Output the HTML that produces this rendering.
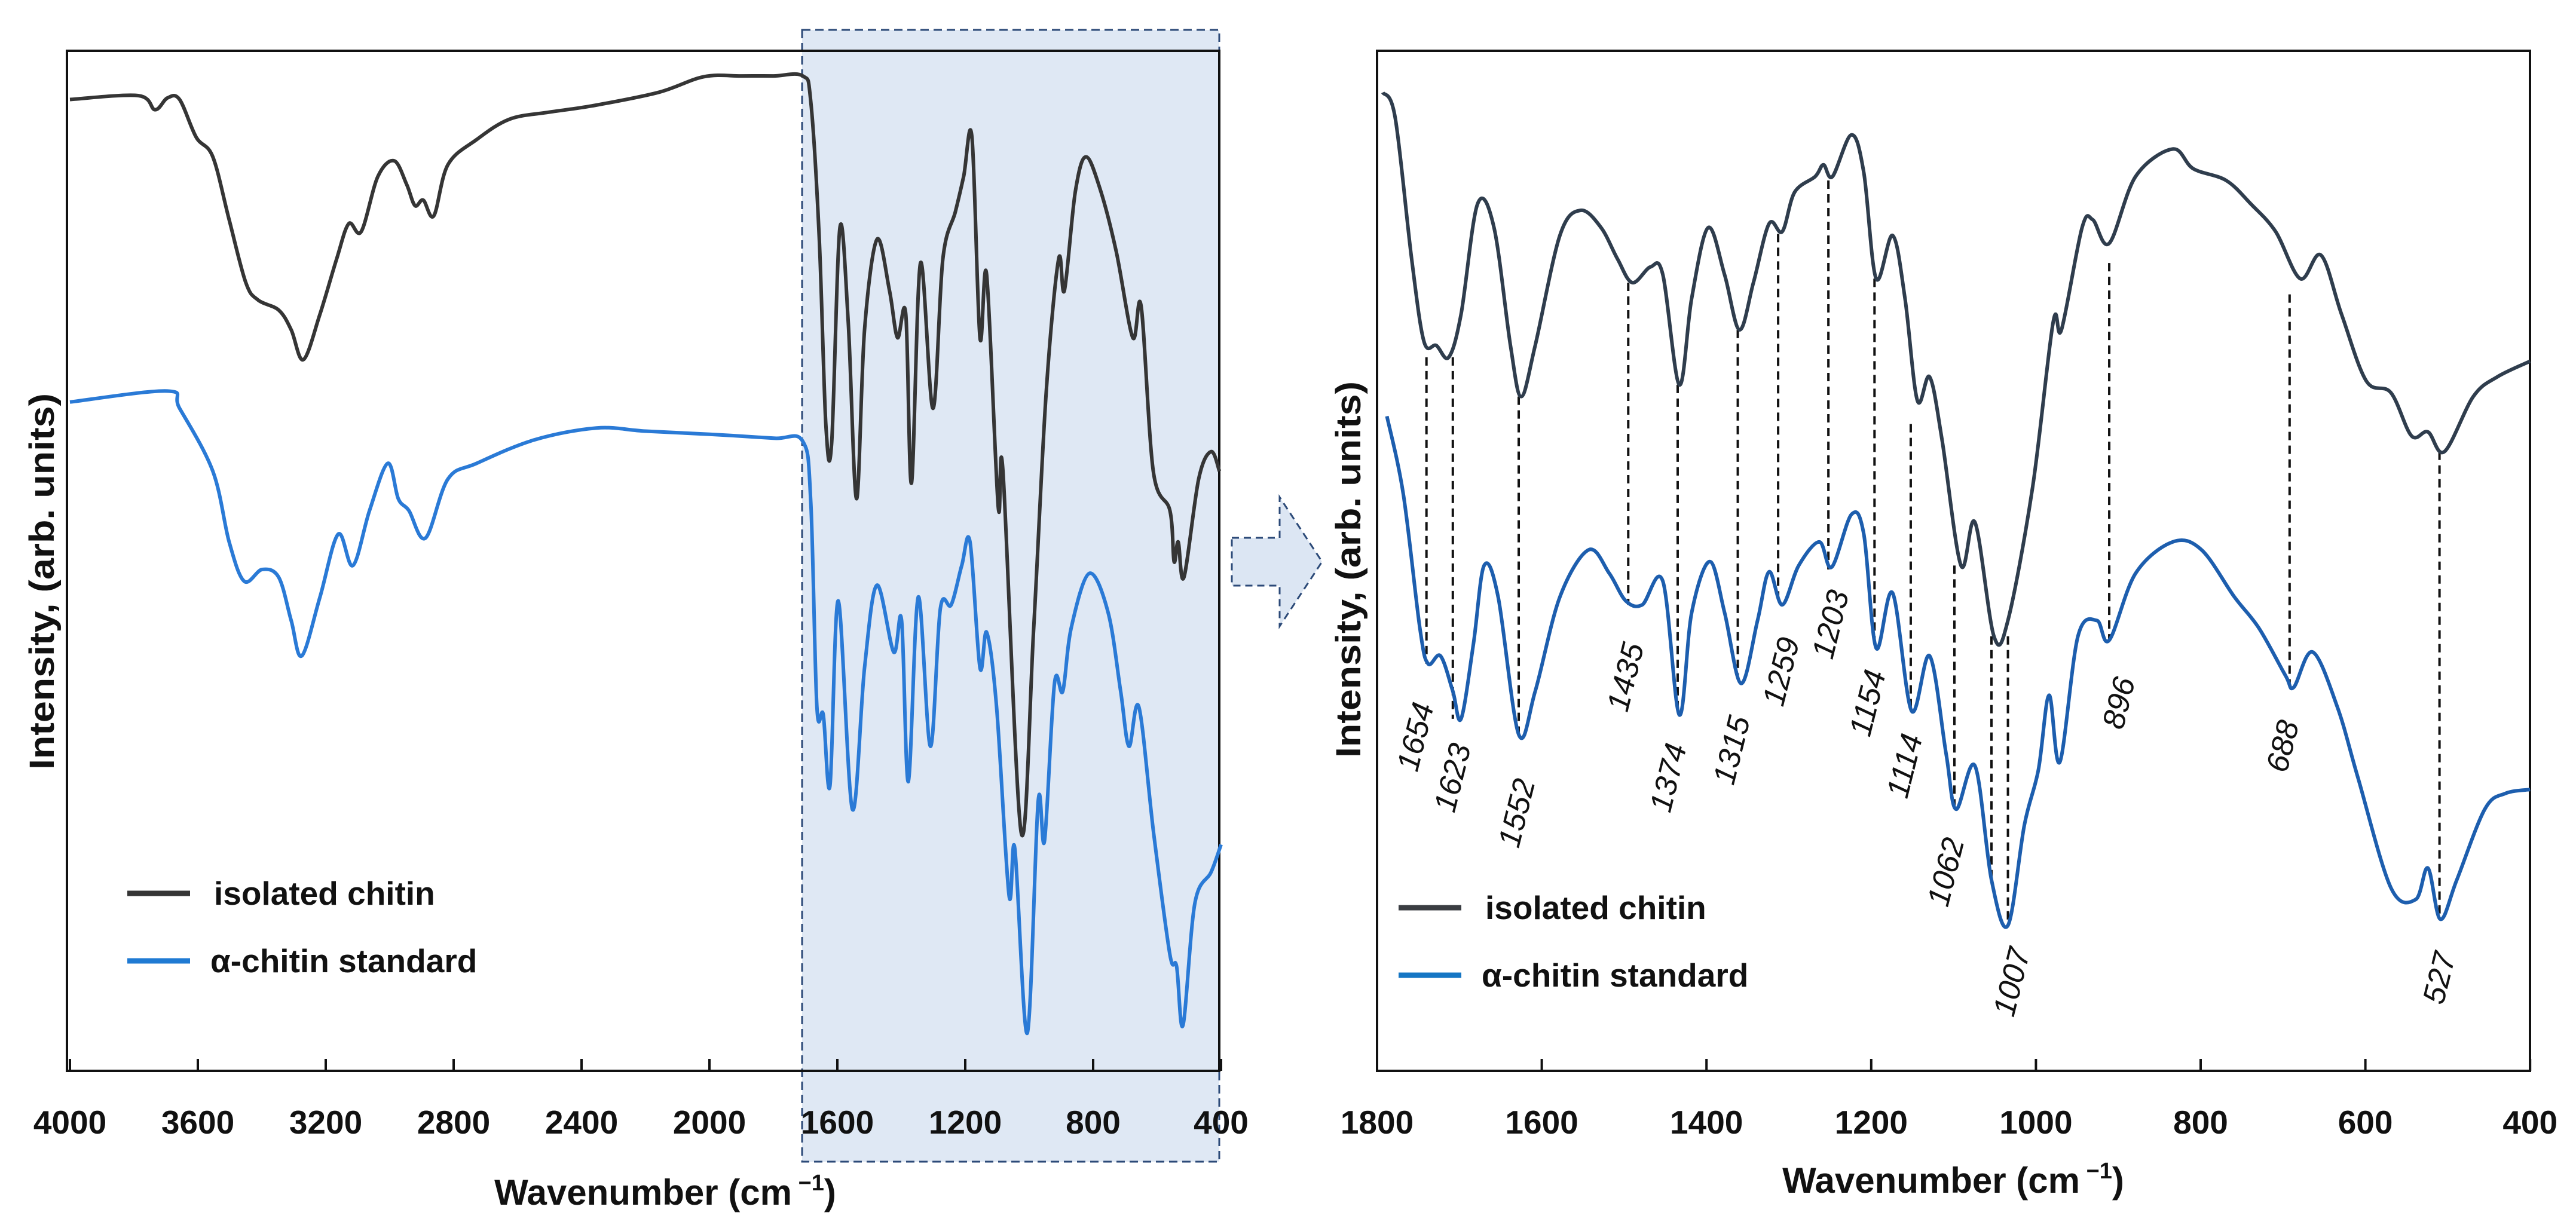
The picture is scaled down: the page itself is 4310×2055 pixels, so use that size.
<!DOCTYPE html>
<html><head><meta charset="utf-8"><title>FTIR chitin spectra</title>
<style>
html,body{margin:0;padding:0;background:#fff;}
svg{display:block;font-family:"Liberation Sans",Arial,sans-serif;}
</style></head>
<body>
<svg id="fig" width="4310" height="2055" viewBox="0 0 4310 2055" xmlns="http://www.w3.org/2000/svg">
  <rect x="0" y="0" width="4310" height="2055" fill="#fff"/>
  <rect x="1342" y="50" width="698" height="1894" fill="#dfe8f4" stroke="#2c4a78" stroke-width="3" stroke-dasharray="14,8"/>
  <g id="left"></g>
  <g id="right"></g>
  <path d="M2061,900 L2141,900 L2141,832 L2212,940 L2141,1048 L2141,980 L2061,980 Z" fill="#dce6f3" stroke="#2c4a78" stroke-width="3" stroke-dasharray="12,8"/>
</svg>
<script>
// ---------- DATA ----------
const leftBlackWn = [4000,3786,3734,3695,3657,3605,3553,3502,3450,3412,3347,3308,3270,3218,3166,3128,3089,3037,2986,2947,2921,2895,2862,2818,2728,2625,2500,2366,2160,2018,1900,1800,1708,1683,1657,1636,1618,1592,1566,1540,1515,1476,1437,1412,1386,1368,1340,1301,1270,1231,1205,1179,1154,1133,1097,1082,1025,986,947,908,890,856,823,779,728,676,650,612,560,547,534,516,470,431,405];
const leftBlackI = [1236,1241,1223,1238,1236,1188,1163,1083,1003,981,968,943,905,963,1033,1078,1068,1138,1158,1128,1101,1108,1088,1153,1185,1211,1220,1228,1245,1265,1266,1266,1266,1233,1063,823,798,1073,953,728,943,1058,993,933,963,748,1028,843,1033,1093,1138,1188,933,1013,718,763,303,563,863,1033,993,1118,1163,1123,1043,933,973,763,713,648,673,628,753,788,763];
const leftBlueWn = [4000,3695,3657,3553,3502,3455,3399,3347,3308,3275,3218,3161,3115,3063,3006,2973,2940,2888,2818,2728,2547,2353,2200,2000,1800,1708,1683,1664,1644,1623,1597,1553,1515,1476,1424,1399,1378,1347,1309,1278,1244,1211,1185,1154,1133,1102,1063,1045,1006,972,952,921,895,869,812,753,714,688,657,611,560,539,519,482,431,400];
const leftBlueI = [851,865,843,763,673,623,638,628,573,528,603,683,643,713,773,728,713,678,753,773,803,818,814,810,805,801,723,463,453,363,598,333,513,618,533,573,368,603,413,588,593,643,673,513,558,463,223,283,48,343,293,493,483,563,633,583,483,413,463,303,148,133,58,213,253,288];
const leftTicks = [4000,3600,3200,2800,2400,2000,1600,1200,800,400];

const rightBlackWn = [1793,1778,1758,1743,1728,1713,1698,1678,1658,1638,1625,1608,1578,1553,1528,1508,1490,1468,1453,1433,1418,1398,1378,1360,1343,1324,1308,1293,1268,1258,1247,1224,1209,1194,1174,1159,1144,1129,1114,1091,1074,1051,1034,1004,979,969,944,931,911,879,834,809,769,739,709,679,654,629,599,569,544,524,504,469,440,400];
const rightBlackI = [1245,1213,1033,928,923,908,963,1103,1073,923,858,923,1063,1095,1073,1033,1003,1023,1013,873,983,1073,1013,943,1003,1078,1068,1118,1138,1153,1138,1191,1143,1008,1063,983,853,883,803,643,698,553,573,743,953,943,1073,1083,1053,1138,1173,1148,1133,1103,1068,1008,1038,963,878,863,808,813,788,858,883,903];
const rightBlueWn = [1788,1768,1748,1738,1723,1708,1698,1683,1670,1653,1628,1608,1578,1543,1518,1498,1478,1453,1433,1418,1396,1378,1358,1338,1324,1308,1288,1263,1248,1224,1209,1194,1174,1151,1129,1109,1097,1074,1054,1034,1014,997,984,971,949,926,911,879,834,799,759,729,697,687,664,634,609,569,539,524,509,489,455,430,400];
const rightBlueI = [833,733,563,518,528,483,448,543,643,603,428,483,603,663,633,598,593,623,453,583,648,583,493,573,635,593,643,673,641,708,683,538,608,458,528,403,333,388,243,185,313,383,478,393,553,573,548,633,673,663,603,563,503,488,533,463,373,233,218,258,193,243,333,353,358];
const rightTicks = [1800,1600,1400,1200,1000,800,600,400];

const peakLabels = ["1654","1623","1552","1435","1374","1315","1259","1203","1154","1114","1062","1007","896","688","527"];
const peakLineWn = [1740,1708,1628,1495,1435,1362,1313,1252,1196,1152,1099,1054,911,692,510];
const peakLineTop = [908,908,858,1003,873,943,1065,1133,1008,823,643,553,1028,988,788];
const peakLineBottom = [518,448,423,593,458,498,598,638,538,458,333,243,548,488,198];
const peakLabelWn = [1753,1708,1630,1498,1446,1369,1309,1249,1204,1159,1109,1029,899,700,510];
const peakLabelI = [425,373,328,501,373,408,508,568,468,388,253,113,468,413,118];
const extraLineWn = [1034];
const extraLineTop = [553];
const extraLineBottom = [185];

// ---------- AXES ----------
const NS = "http://www.w3.org/2000/svg";
const yBottom = 1792, yTop = 85;
function yScale(I){ return yBottom - I*(yBottom - yTop)/1298; }
function xLeft(wn){ return 117 + (4000 - wn)/400*214; }
function xRight(wn){ return 2304 + (1800 - wn)/200*275.6; }

function mk(tag, parent){ const e = document.createElementNS(NS, tag); parent.appendChild(e); return e; }

function smoothPath(xs, ys){
  let d = "M" + xs[0].toFixed(1) + "," + ys[0].toFixed(1);
  for (let i = 0; i < xs.length - 1; i++){
    const x0 = xs[Math.max(i-1,0)], y0 = ys[Math.max(i-1,0)];
    const x1 = xs[i], y1 = ys[i], x2 = xs[i+1], y2 = ys[i+1];
    const x3 = xs[Math.min(i+2,xs.length-1)], y3 = ys[Math.min(i+2,ys.length-1)];
    const c1x = x1 + (x2-x0)/6, c1y = y1 + (y2-y0)/6;
    const c2x = x2 - (x3-x1)/6, c2y = y2 - (y3-y1)/6;
    d += " C" + c1x.toFixed(1)+","+c1y.toFixed(1)+" "+c2x.toFixed(1)+","+c2y.toFixed(1)+" "+x2.toFixed(1)+","+y2.toFixed(1);
  }
  return d;
}

function drawPanel(g, x0, x1, xs, ticks, series, legendX, legendY, titleX, titleY, ytitleX, ytitleY, prefix){
  const frame = mk("rect", g);
  
  
  frame.setAttribute("x", x0); frame.setAttribute("y", yTop);
  frame.setAttribute("width", x1 - x0); frame.setAttribute("height", yBottom - yTop);
  frame.setAttribute("fill", "none"); frame.setAttribute("stroke", "#111"); frame.setAttribute("stroke-width", "4");
  ticks.forEach(t => {
    const X = xs(t);
    const tk = mk("line", g);
    
    
    tk.setAttribute("x1", X); tk.setAttribute("x2", X);
    tk.setAttribute("y1", yBottom); tk.setAttribute("y2", yBottom - 20);
    tk.setAttribute("stroke", "#111"); tk.setAttribute("stroke-width", "4");
    const lb = mk("text", g);
    
    
    lb.setAttribute("x", X); lb.setAttribute("y", 1897);
    lb.setAttribute("text-anchor", "middle"); lb.setAttribute("font-size", "55");
    lb.setAttribute("font-weight", "bold"); lb.setAttribute("fill", "#111");
    lb.textContent = t;
  });
  series.forEach(s => {
    const p = mk("path", g);
    
    
    p.setAttribute("d", smoothPath(s.wn.map(xs), s.I.map(yScale)));
    p.setAttribute("fill", "none"); p.setAttribute("stroke", s.color);
    p.setAttribute("stroke-width", "6"); p.setAttribute("stroke-linejoin", "round");
  });
  series.forEach((s, i) => {
    const Y = legendY + i*113;
    const ln = mk("line", g);
    
    
    ln.setAttribute("x1", legendX); ln.setAttribute("x2", legendX + 105);
    ln.setAttribute("y1", Y); ln.setAttribute("y2", Y);
    ln.setAttribute("stroke", s.legendColor); ln.setAttribute("stroke-width", "9");
    const tx = mk("text", g);
    
    
    tx.setAttribute("x", legendX + 145 - i*6); tx.setAttribute("y", Y + 19);
    tx.setAttribute("font-size", "55"); tx.setAttribute("font-weight", "bold"); tx.setAttribute("fill", "#111");
    tx.textContent = s.label;
  });
  const xt = mk("text", g);
  
  
  xt.setAttribute("x", titleX); xt.setAttribute("y", titleY);
  xt.setAttribute("text-anchor", "middle"); xt.setAttribute("font-size", "60"); xt.setAttribute("font-weight", "bold");
  xt.setAttribute("fill", "#111");
  xt.innerHTML = 'Wavenumber (cm<tspan font-size="38" dy="-24"> \u22121</tspan><tspan dy="24">)</tspan>';
  const yt = mk("text", g);
  
  
  yt.setAttribute("transform", "translate(" + ytitleX + "," + ytitleY + ") rotate(-90)");
  yt.setAttribute("text-anchor", "middle"); yt.setAttribute("font-size", "58"); yt.setAttribute("font-weight", "bold");
  yt.setAttribute("fill", "#111"); yt.setAttribute("textLength", "630"); yt.setAttribute("lengthAdjust", "spacingAndGlyphs");
  yt.textContent = "Intensity, (arb. units)";
}

const left = document.getElementById("left");
drawPanel(left, 112, 2040, xLeft, leftTicks, [
  {name:'left-isolated-chitin-line', wn:leftBlackWn, I:leftBlackI, color:'#353535', legendColor:'#353535', label:'isolated chitin'},
  {name:'left-alpha-chitin-standard-line', wn:leftBlueWn, I:leftBlueI, color:'#2a7ad6', legendColor:'#1f7ad3', label:'\u03b1-chitin standard'}
], 213, 1495, 1113, 2016, 90, 973, 'left');

const right = document.getElementById("right");
const ann = mk("g", right);


peakLabels.forEach((lab, i) => {
  const X = xRight(peakLineWn[i]);
  const ln = mk("line", ann);
  
  
  ln.setAttribute("x1", X); ln.setAttribute("x2", X);
  ln.setAttribute("y1", yScale(peakLineTop[i])); ln.setAttribute("y2", yScale(peakLineBottom[i]));
  ln.setAttribute("stroke", "#111"); ln.setAttribute("stroke-width", "4"); ln.setAttribute("stroke-dasharray", "14,9");
  const tx = mk("text", ann);
  
  
  const LX = xRight(peakLabelWn[i]), LY = yScale(peakLabelI[i]);
  tx.setAttribute("transform", "translate(" + LX.toFixed(1) + "," + LY.toFixed(1) + ") rotate(-76)");
  tx.setAttribute("text-anchor", "middle"); tx.setAttribute("dominant-baseline", "central");
  tx.setAttribute("font-size", "52"); tx.setAttribute("font-style", "italic"); tx.setAttribute("fill", "#111");
  tx.textContent = lab;
});
extraLineWn.forEach((w, i) => {
  const X = xRight(w);
  const ln = mk("line", ann);
  
  
  ln.setAttribute("x1", X); ln.setAttribute("x2", X);
  ln.setAttribute("y1", yScale(extraLineTop[i])); ln.setAttribute("y2", yScale(extraLineBottom[i]));
  ln.setAttribute("stroke", "#111"); ln.setAttribute("stroke-width", "4"); ln.setAttribute("stroke-dasharray", "14,9");
});
drawPanel(right, 2304, 4233, xRight, rightTicks, [
  {name:'right-isolated-chitin-line', wn:rightBlackWn, I:rightBlackI, color:'#2f3d4d', legendColor:'#3a3d42', label:'isolated chitin'},
  {name:'right-alpha-chitin-standard-line', wn:rightBlueWn, I:rightBlueI, color:'#1d5eae', legendColor:'#1576c4', label:'\u03b1-chitin standard'}
], 2340, 1519, 3268, 1996, 2276, 953, 'right');
</script>
</body></html>
